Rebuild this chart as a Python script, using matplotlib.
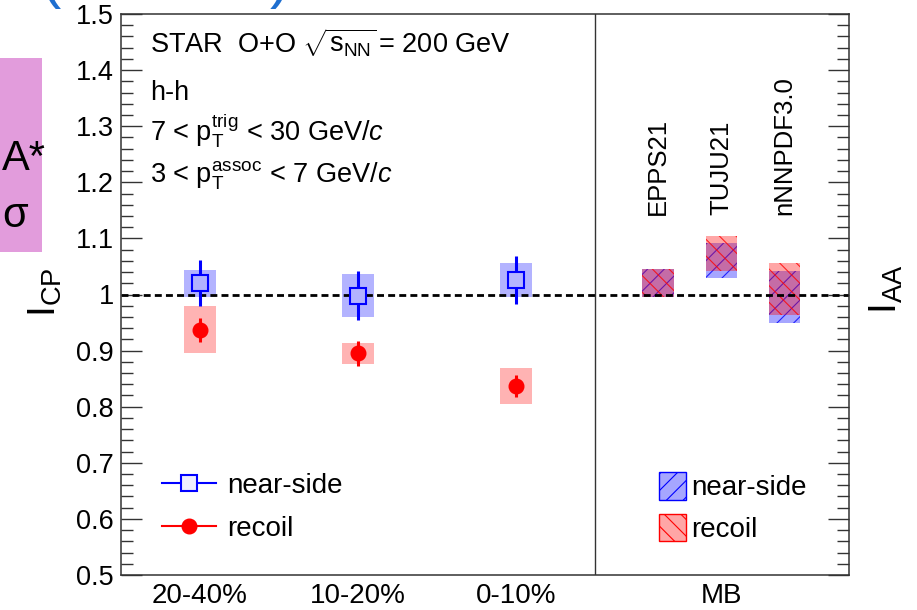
import matplotlib.pyplot as plt
from matplotlib.lines import Line2D
from matplotlib.patches import Patch, Rectangle
from matplotlib.ticker import MultipleLocator
import numpy as np

plt.rcParams['font.family'] = ['Liberation Sans', 'DejaVu Sans']
plt.rcParams['mathtext.fontset'] = 'custom'
plt.rcParams['mathtext.rm'] = 'Liberation Sans'
plt.rcParams['mathtext.it'] = 'Liberation Sans:italic'
plt.rcParams['mathtext.bf'] = 'Liberation Sans:bold'
plt.rcParams['hatch.linewidth'] = 0.8

# I_CP vs centrality
centrality = ['20-40%', '10-20%', '0-10%']
near_icp = [1.020, 0.998, 1.026]
near_stat = [0.041, 0.043, 0.043]
near_sys = [0.024, 0.038, 0.031]
recoil_icp = [0.937, 0.895, 0.837]
recoil_stat = [0.021, 0.022, 0.020]
recoil_sys = [0.042, 0.019, 0.032]

# I_AA model bands (MB)
models = ['EPPS21', 'TUJU21', 'nNNPDF3.0']
near_model_lo = [0.995, 1.029, 0.950]
near_model_hi = [1.045, 1.091, 1.042]
recoil_model_lo = [0.995, 1.041, 0.963]
recoil_model_hi = [1.045, 1.104, 1.057]

yticks = [0.5, 0.6, 0.7, 0.8, 0.9, 1.0, 1.1, 1.2, 1.3, 1.4, 1.5]
ytick_labels = ['0.5', '0.6', '0.7', '0.8', '0.9', '1', '1.1', '1.2', '1.3', '1.4', '1.5']

x_cent = np.arange(len(centrality)) + 0.5
x_model = 3.4 + 0.4 * np.arange(len(models))

fig = plt.figure(figsize=(9.17, 6.10), dpi=100)
ax = fig.add_axes([121 / 917, 1 - 575 / 610, 728 / 917, 561 / 610])

# systematic boxes
near_icp_a, near_sys_a = np.array(near_icp), np.array(near_sys)
rec_icp_a, rec_sys_a = np.array(recoil_icp), np.array(recoil_sys)
ax.bar(x_cent, 2 * near_sys_a, width=0.2, bottom=near_icp_a - near_sys_a,
       color='#b3b3ff', lw=0, zorder=1)
ax.bar(x_cent, 2 * rec_sys_a, width=0.2, bottom=rec_icp_a - rec_sys_a,
       color='#ffb3b3', lw=0, zorder=1)

# model bands
nlo, nhi = np.array(near_model_lo), np.array(near_model_hi)
rlo, rhi = np.array(recoil_model_lo), np.array(recoil_model_hi)
ax.bar(x_model, nhi - nlo, width=0.2, bottom=nlo, facecolor=(0, 0, 1, 0.35),
       edgecolor=(0, 0, 1, 0.8), hatch='//', lw=0, zorder=1)
ax.bar(x_model, rhi - rlo, width=0.2, bottom=rlo, facecolor=(1, 0, 0, 0.35),
       edgecolor=(1, 0, 0, 0.8), hatch='\\\\', lw=0, zorder=1)

ax.axhline(1.0, color='black', lw=2.0, ls=(0, (2.5, 1.5)), zorder=2)
ax.axvline(3.0, color='#333333', lw=1.0, zorder=2)

# points with stat errors
ax.errorbar(x_cent, near_icp, yerr=near_stat, fmt='s', color='blue',
            mfc='#b3b3ff', mec='blue', ms=11.5, mew=1.5, elinewidth=2.2,
            capsize=0, zorder=3)
ax.errorbar(x_cent, recoil_icp, yerr=recoil_stat, fmt='o', color='red',
            ms=10.5, elinewidth=2.2, capsize=0, zorder=3)

ax.set_xlim(0, 728 / 158)
ax.set_ylim(0.5, 1.5)
ax.set_yticks(yticks, ytick_labels)
ax.yaxis.set_minor_locator(MultipleLocator(0.02))
ax.set_xticks(list(x_cent) + [3.8], centrality + ['MB'])
ax.tick_params(axis='y', which='both', direction='in', left=True, right=True,
               labelsize=19.5, width=1, color='#333333', pad=5)
ax.tick_params(axis='y', which='major', length=15)
ax.tick_params(axis='y', which='minor', length=8.5)
ax.tick_params(axis='x', length=0, labelsize=20, pad=6)
for s in ax.spines.values():
    s.set_linewidth(1.1)
    s.set_color('#333333')

# labels
tx = 0.184
fs = 19.5
ax.text(tx, 1.432, r'STAR  O+O $\sqrt{\mathregular{s_{NN}}}\,$= 200 GeV', fontsize=fs, va='baseline')
ax.text(tx, 1.347, 'h-h', fontsize=fs, va='baseline')
ax.text(tx, 1.275, r'7 < $\mathregular{p_{T}^{trig}}$ < 30 GeV/$c$', fontsize=fs, va='baseline')
ax.text(tx, 1.200, r'3 < $\mathregular{p_{T}^{assoc}}$ < 7 GeV/$c$', fontsize=fs, va='baseline')
for xm, name in zip(x_model, models):
    ax.text(xm, 1.142, name, rotation=90, ha='center', va='bottom', fontsize=18.5)

fig.text(45 / 917, 1 - 292 / 610, r'I$_{\rm CP}$', rotation=90, fontsize=28,
         ha='center', va='center')
fig.text(886 / 917, 1 - 289 / 610, r'I$_{\rm AA}$', rotation=90, fontsize=28,
         ha='center', va='center')

# legends
h_near = Line2D([], [], color='blue', marker='s', ms=11.5, mfc='#eeeeff', mew=1.5, lw=1.5)
h_rec = Line2D([], [], color='red', marker='o', ms=10.5, lw=1.5)
leg1 = ax.legend([h_near, h_rec], ['near-side', 'recoil'], loc='center left',
                 bbox_to_anchor=(0.0563, 0.1203), frameon=False, fontsize=20,
                 handlelength=1.95, handletextpad=0.4, labelspacing=0.62,
                 borderpad=0, borderaxespad=0)
ax.add_artist(leg1)
p_near = Patch(facecolor=(0, 0, 1, 0.35), edgecolor='blue', hatch='//', lw=1)
p_rec = Patch(facecolor=(1, 0, 0, 0.35), edgecolor='red', hatch='\\\\', lw=1)
ax.legend([p_near, p_rec], ['near-side', 'recoil'], loc='center left',
          bbox_to_anchor=(0.739, 0.1203), frameon=False, fontsize=20,
          handlelength=0.97, handleheight=1.15, handletextpad=0.2,
          labelspacing=0.45, borderpad=0, borderaxespad=0)

# slide leftovers around the chart
fig.patches.append(Rectangle((0, 1 - 252 / 610), 42 / 917, 194 / 610,
                             transform=fig.transFigure, facecolor='#e29cdc',
                             edgecolor='none', zorder=0))
fig.text(2 / 917, 1 - 170 / 610, 'A*', fontsize=30, va='baseline', ha='left')
fig.text(2 / 917, 1 - 227 / 610, 'σ', fontsize=30, va='baseline', ha='left')
fig.text(40 / 917, 1 - 9 / 610, '(', fontsize=44, color='#1f6fd0', va='bottom')
fig.text(270 / 917, 1 - 9 / 610, ')', fontsize=44, color='#1f6fd0', va='bottom')

fig.savefig('out.png', dpi=100)
